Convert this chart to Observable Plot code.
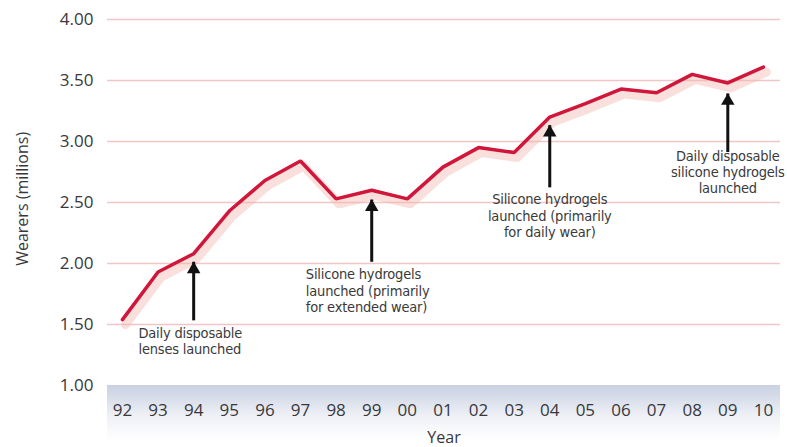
<!DOCTYPE html>
<html>
<head>
<meta charset="utf-8">
<script src="https://cdn.jsdelivr.net/npm/d3@7"></script>
<script src="https://cdn.jsdelivr.net/npm/@observablehq/plot@0.6"></script>
<style>
  html, body { margin: 0; padding: 0; background: #fff; }
  #chart { width: 787px; height: 447px; }
  #chart g.anno text { font-stretch: condensed; letter-spacing: -0.2px; }
</style>
</head>
<body>
<div id="chart"></div>
<script>
// Data
const years = [1992,1993,1994,1995,1996,1997,1998,1999,2000,2001,2002,2003,2004,2005,2006,2007,2008,2009,2010];
const wearers = [1.54,1.93,2.08,2.43,2.68,2.84,2.53,2.60,2.53,2.79,2.95,2.91,3.20,3.31,3.43,3.40,3.55,3.48,3.61];
const yTicks = [1.00,1.50,2.00,2.50,3.00,3.50,4.00];

// Annotations (data units)
const annoYears = [1994, 1999, 2004, 2009];
const arrowFrom = [1.53, 2.01, 2.62, 2.91];
const arrowTo   = [2.01, 2.52, 3.13, 3.39];
const annoText = [
  "Daily disposable\nlenses launched",
  "Silicone hydrogels\nlaunched (primarily\nfor extended wear)",
  "Silicone hydrogels\nlaunched (primarily\nfor daily wear)",
  "Daily disposable\nsilicone hydrogels\nlaunched"
];
const annoX = [1992.45, 1997.15, 2004, 2009];
const annoY = [1.485, 1.965, 2.58, 2.935];
const annoAnchor = ["start", "start", "middle", "middle"];

const series = years.map((y, i) => ({year: y, value: wearers[i]}));
const arrows = annoYears.map((y, i) => ({year: y, from: arrowFrom[i], to: arrowTo[i]}));
const notes = annoText.map((t, i) => ({x: annoX[i], y: annoY[i], text: t, anchor: annoAnchor[i]}));
const halfTicks = years.slice(0, -1).map(y => y + 0.5);

const fmtYear = d => String(d % 100).padStart(2, "0");
const annoFont = "'DejaVu Sans Condensed', 'Liberation Sans Narrow', 'Open Sans', sans-serif";

const chart = Plot.plot({
  width: 787,
  height: 447,
  marginLeft: 107,
  marginRight: 7,
  marginTop: 19,
  marginBottom: 62,
  style: {fontFamily: "'Open Sans', sans-serif", background: "#fff"},
  x: {domain: [1991.58, 2010.48], axis: null},
  y: {domain: [1, 4], axis: null},
  marks: [
    // bottom band
    Plot.rect([{}], {x1: 1991.58, x2: 2010.48, y1: 1.0, y2: 0.55, fill: "url(#bandGrad)", clip: false}),
    Plot.tickX(halfTicks, {x: d => d, y1: 1.0, y2: 0.94, stroke: "#ffffff", strokeWidth: 1.5, strokeOpacity: 0.8}),
    // grid
    Plot.ruleY(yTicks.filter(v => v > 1), {y: d => d, stroke: "#f3c6c6", strokeWidth: 1.5}),
    // y tick labels
    Plot.text(yTicks, {x: 1991.58, y: d => d, text: d => d.toFixed(2), textAnchor: "end", dx: -14, fontSize: 17, fill: "#38383c"}),
    // x tick labels
    Plot.text(years, {x: d => d, y: 1.0, text: fmtYear, dy: 25, fontSize: 17, fill: "#38383c"}),
    // axis titles
    Plot.text(["Year"], {x: 2001.03, y: 1.0, text: d => d, dy: 52, fontSize: 16, fill: "#38383c"}),
    Plot.text(["Wearers (millions)"], {x: 1991.58, y: 2.53, text: d => d, dx: -85, rotate: -90, fontSize: 16, fill: "#38383c"}),
    // shadow line
    Plot.line(series, {x: "year", y: "value", stroke: "#f2b2a8", strokeWidth: 9, strokeOpacity: 0.4, dx: 3, dy: 5, strokeLinejoin: "round"}),
    // main line
    Plot.line(series, {x: "year", y: "value", stroke: "#d0163a", strokeWidth: 3.5, strokeLinejoin: "miter"}),
    // arrows: shaft + filled head
    Plot.ruleX(arrows, {x: "year", y1: "from", y2: "to", stroke: "#111", strokeWidth: 3}),
    Plot.dot(arrows, {x: "year", y: "to", symbol: "triangle", r: 5, fill: "#111", stroke: "none", dy: 7}),
    // annotation texts
    Plot.text(notes.filter(d => d.anchor === "start"), {x: "x", y: "y", text: "text", textAnchor: "start", lineAnchor: "top", lineHeight: 1.12, fontSize: 14.5, fill: "#3a3a3a", fontFamily: annoFont}),
    Plot.text(notes.filter(d => d.anchor === "middle"), {x: "x", y: "y", text: "text", textAnchor: "middle", lineAnchor: "top", lineHeight: 1.12, fontSize: 14.5, fill: "#3a3a3a", fontFamily: annoFont})
  ]
});

// mark annotation groups
chart.querySelectorAll("g[font-family]").forEach(g => {
  if ((g.getAttribute("font-family") || "").includes("Condensed")) g.classList.add("anno");
});

// gradient def for bottom band
const ns = "http://www.w3.org/2000/svg";
const defs = document.createElementNS(ns, "defs");
const grad = document.createElementNS(ns, "linearGradient");
grad.setAttribute("id", "bandGrad");
grad.setAttribute("x1", "0"); grad.setAttribute("y1", "0");
grad.setAttribute("x2", "0"); grad.setAttribute("y2", "1");
[["0", "#c9d1e2"], ["0.2", "#d5dbe8"], ["0.55", "#eef0f6"], ["1", "#ffffff"]].forEach(([o, c]) => {
  const s = document.createElementNS(ns, "stop");
  s.setAttribute("offset", o);
  s.setAttribute("stop-color", c);
  grad.appendChild(s);
});
defs.appendChild(grad);
chart.insertBefore(defs, chart.firstChild);

document.getElementById("chart").appendChild(chart);
</script>
</body>
</html>
